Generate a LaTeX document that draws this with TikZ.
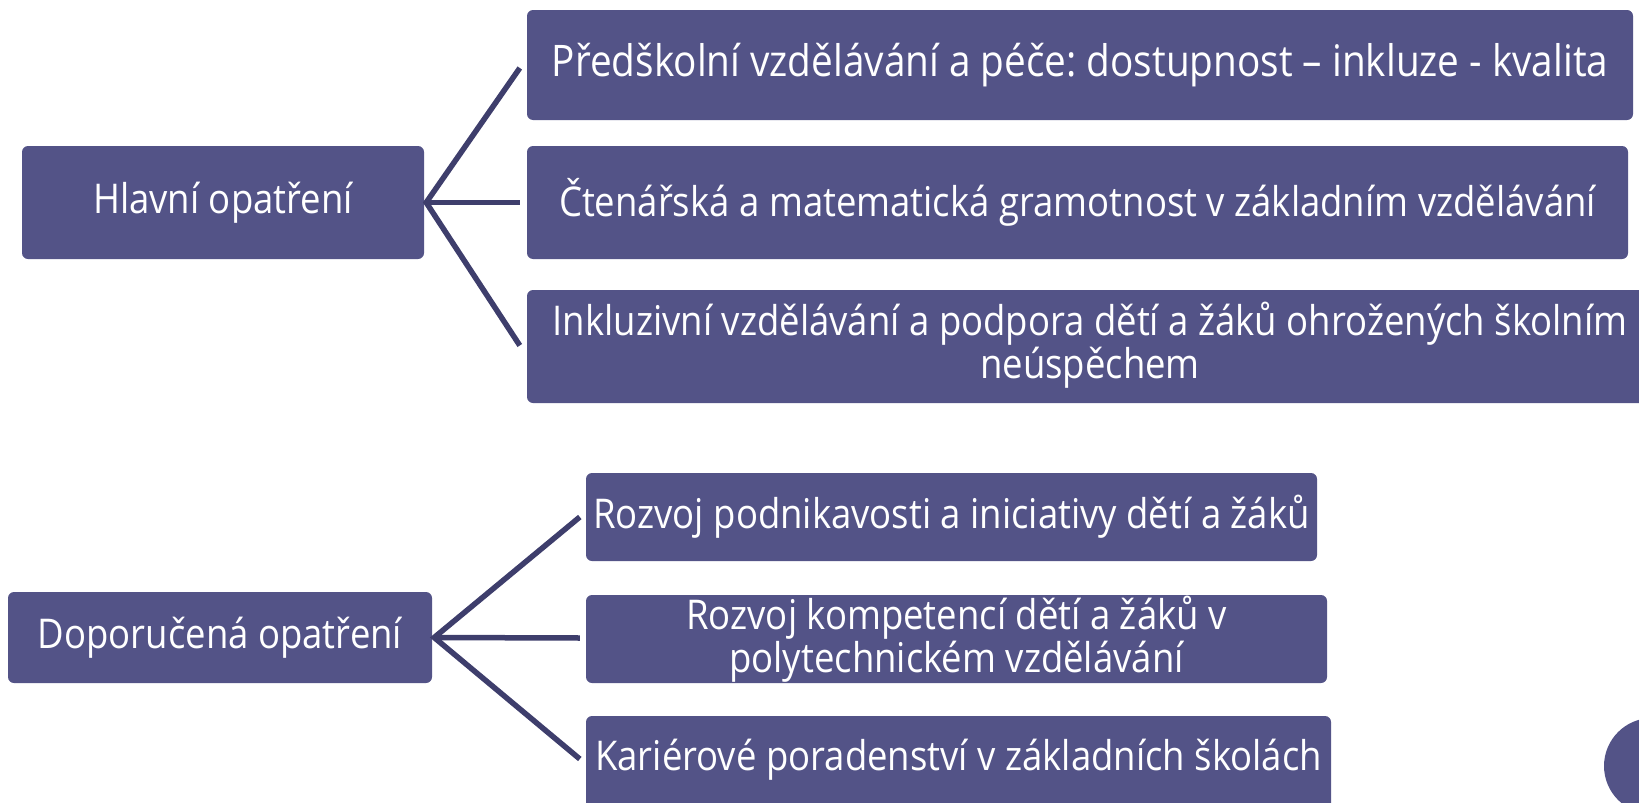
\documentclass[tikz,border=0pt]{standalone}
\usepackage{fontspec}
\setmainfont{Open Sans}[FakeStretch=0.89]
\usetikzlibrary{calc}
\definecolor{boxfill}{HTML}{535387}
\definecolor{linecol}{HTML}{3E3E6C}
\begin{document}
\frenchspacing
\begin{tikzpicture}[x=1pt,y=-1pt,
  box/.style={fill=boxfill,rounded corners=6pt,inner sep=0pt},
  lbl/.style={text=white,align=center,font=\fontsize{41}{43}\selectfont},
  conn/.style={draw=linecol,line width=5.5pt,line cap=butt}]
\useasboundingbox (0,0) rectangle (1639,803);
% top group
\node[box,minimum width=402pt,minimum height=113pt] (h) at (223,202.5) {};
\node[lbl] (ht) at (h) {Hlavní opatření};
\node[box,minimum width=1106pt,minimum height=110pt] (b1) at (1080,65) {};
\node[lbl,font=\fontsize{43.5}{45}\selectfont] (b1t) at (1080,65) {Předškolní vzdělávání a péče: dostupnost – inkluze - kvalita};
\node[box,minimum width=1101pt,minimum height=113pt] (b2) at (1077.5,202.5) {};
\node[lbl] (b2t) at (b2) {Čtenářská a matematická gramotnost v základním vzdělávání};
\node[box,minimum width=1153pt,minimum height=113pt] (b3) at (1103.5,346.5) {};
\node[lbl] (b3t) at (1090,345) {Inkluzivní vzdělávání a podpora dětí a žáků ohrožených školním\\neúspěchem};
\coordinate (hs) at ($(h.east)+(2,0)$);
\coordinate (e1) at ($(b1.west)+(-7,3)$);
\coordinate (e2) at ($(b2.west)+(-7,0)$);
\coordinate (e3) at ($(b3.west)+(-7,-1)$);
\draw[conn] (e1) -- (hs) -- (e3);
\draw[conn] (hs) -- (e2);
% bottom group
\node[box,minimum width=424pt,minimum height=91pt] (d) at (220,637.5) {};
\node[lbl] (dt) at (d) {Doporučená opatření};
\node[box,minimum width=731pt,minimum height=88pt] (c1) at (951.5,517) {};
\node[lbl] (c1t) at (c1) {Rozvoj podnikavosti a iniciativy dětí a žáků};
\node[box,minimum width=741pt,minimum height=88pt] (c2) at (956.5,639) {};
\node[lbl] (c2t) at (c2) {Rozvoj kompetencí dětí a žáků v\\polytechnickém vzdělávání};
\node[box,minimum width=745pt,minimum height=100pt] (c3) at (958.5,766) {};
\node[lbl] (c3t) at (958.5,760) {Kariérové poradenství v základních školách};
\coordinate (ds) at ($(d.east)+(2,0)$);
\coordinate (f1) at ($(c1.west)+(-6,0)$);
\coordinate (f2) at ($(c2.west)+(-6,-1)$);
\coordinate (f3) at ($(c3.west)+(-6,-7)$);
\draw[conn] (f1) -- (ds) -- (f3);
\draw[conn] (ds) -- (f2);
% partial circle at bottom right
\fill[boxfill] (1652,766) circle (48);
\end{tikzpicture}
\end{document}
